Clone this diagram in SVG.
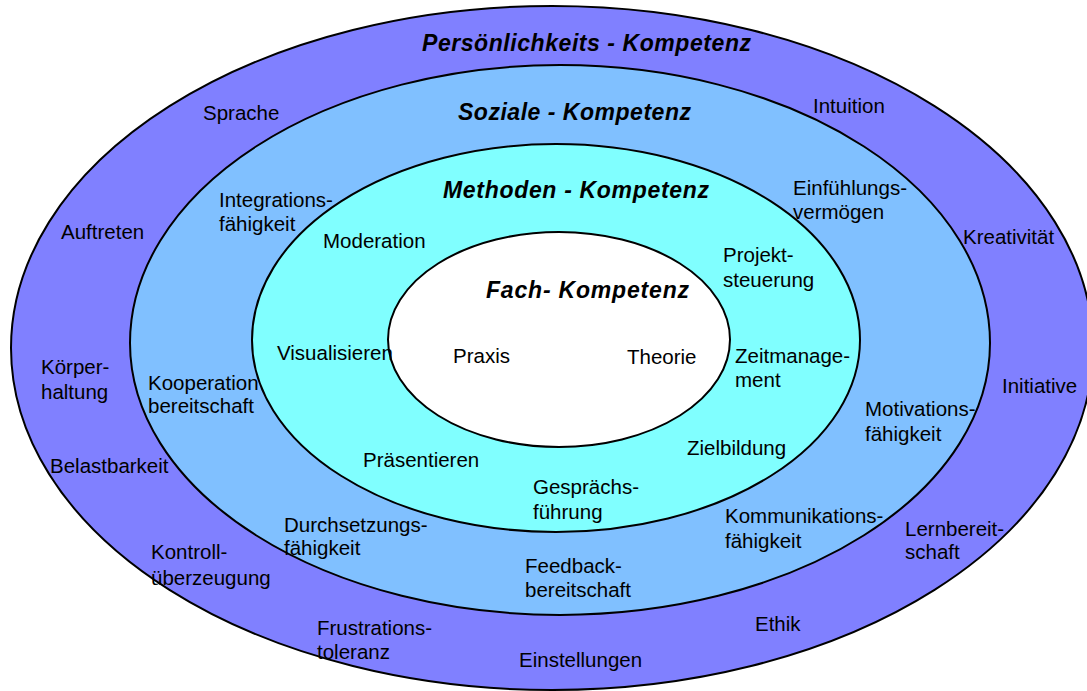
<svg xmlns="http://www.w3.org/2000/svg" width="1087" height="691" viewBox="0 0 1087 691">
<style>
.ring{stroke:#000;stroke-width:2}
.t{font-family:"Liberation Sans",Arial,sans-serif;font-size:20.5px;fill:#000}
.h{font-family:"Liberation Sans",Arial,sans-serif;font-size:23px;font-weight:bold;font-style:italic;fill:#000}
</style>
<rect width="1087" height="691" fill="#fff"/>
<g id="persoenlichkeit">
<ellipse class="ring" cx="552" cy="348" rx="541" ry="342" fill="#8080FF"/>
<text class="h" x="422" y="51" textLength="329">Persönlichkeits - Kompetenz</text>
<text class="t" x="203" y="120">Sprache</text>
<text class="t" x="61" y="239">Auftreten</text>
<text class="t" x="813" y="113">Intuition</text>
<text class="t" x="963" y="244">Kreativität</text>
<text class="t" x="41" y="374">Körper-</text>
<text class="t" x="41" y="399">haltung</text>
<text class="t" x="1002" y="393">Initiative</text>
<text class="t" x="50" y="473">Belastbarkeit</text>
<text class="t" x="151" y="559">Kontroll-</text>
<text class="t" x="151" y="585">überzeugung</text>
<text class="t" x="905" y="536">Lernbereit-</text>
<text class="t" x="905" y="559">schaft</text>
<text class="t" x="317" y="635">Frustrations-</text>
<text class="t" x="317" y="659">toleranz</text>
<text class="t" x="755" y="631">Ethik</text>
<text class="t" x="519" y="667">Einstellungen</text>
</g>
<g id="sozial">
<path class="ring" d="M130 343 A430 278 0 0 1 990 343 A430 272 0 0 1 130 343 Z" fill="#80C0FF"/>
<text class="h" x="458" y="120" textLength="233">Soziale - Kompetenz</text>
<text class="t" x="219" y="207">Integrations-</text>
<text class="t" x="219" y="231">fähigkeit</text>
<text class="t" x="793" y="195">Einfühlungs-</text>
<text class="t" x="793" y="219">vermögen</text>
<text class="t" x="148" y="390">Kooperation</text>
<text class="t" x="148" y="413">bereitschaft</text>
<text class="t" x="865" y="416">Motivations-</text>
<text class="t" x="865" y="441">fähigkeit</text>
<text class="t" x="284" y="532">Durchsetzungs-</text>
<text class="t" x="284" y="555">fähigkeit</text>
<text class="t" x="725" y="523">Kommunikations-</text>
<text class="t" x="725" y="548">fähigkeit</text>
<text class="t" x="525" y="573">Feedback-</text>
<text class="t" x="525" y="597">bereitschaft</text>
</g>
<g id="methoden">
<path class="ring" d="M252 340 A304 196 0 0 1 860 340 A304 192 0 0 1 252 340 Z" fill="#80FFFF"/>
<text class="h" x="443" y="198" textLength="266">Methoden - Kompetenz</text>
<text class="t" x="323" y="248">Moderation</text>
<text class="t" x="723" y="262">Projekt-</text>
<text class="t" x="723" y="287">steuerung</text>
<text class="t" x="735" y="363">Zeitmanage-</text>
<text class="t" x="735" y="387">ment</text>
<text class="t" x="687" y="455">Zielbildung</text>
<text class="t" x="363" y="467">Präsentieren</text>
<text class="t" x="533" y="494">Gesprächs-</text>
<text class="t" x="533" y="519">führung</text>
</g>
<g id="fach">
<ellipse class="ring" cx="559" cy="339.5" rx="171" ry="107.5" fill="#fff"/>
<text class="h" x="486" y="298" textLength="203">Fach- Kompetenz</text>
<text class="t" x="453" y="363">Praxis</text>
<text class="t" x="627" y="364">Theorie</text>
</g>
<g id="visualisieren">
<text class="t" x="277" y="360">Visualisieren</text>
</g>
<g id="connectors"></g>
</svg>
